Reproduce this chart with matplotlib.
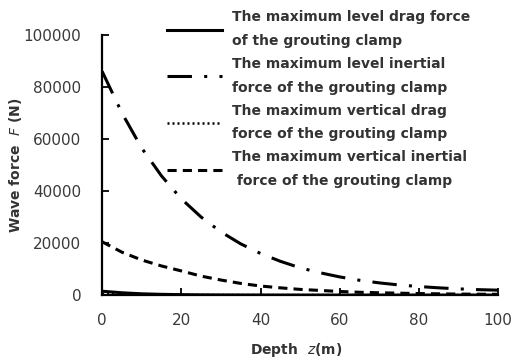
import matplotlib.pyplot as plt

# depth along the pile (m)
depth = [0, 5, 10, 15, 20, 25, 30, 35, 40, 45, 50, 55, 60, 65, 70, 75, 80, 85, 90, 95, 100]
# wave force values (N)
level_drag = [1500, 900, 500, 300, 170, 100, 60, 40, 25, 15, 10, 8, 6, 5, 4, 3, 3, 2, 2, 2, 2]
level_inertial = [86000, 70000, 56500, 45800, 37000, 30000, 24300, 19700, 16000, 13000, 10500,
                  8600, 7000, 5700, 4700, 3900, 3300, 2800, 2400, 2100, 1900]
vertical_drag = [400, 250, 150, 90, 55, 35, 20, 12, 8, 5, 3, 2, 2, 1, 1, 1, 1, 1, 1, 1, 1]
vertical_inertial = [20500, 16500, 13500, 11200, 9300, 7300, 5800, 4500, 3500, 2800, 2200,
                     1800, 1400, 1100, 900, 750, 600, 500, 400, 350, 300]

labels = ["The maximum level drag force\nof the grouting clamp",
          "The maximum level inertial\nforce of the grouting clamp",
          "The maximum vertical drag\nforce of the grouting clamp",
          "The maximum vertical inertial\n force of the grouting clamp"]

fig = plt.figure(figsize=(5.13, 3.63), dpi=100)
ax = fig.add_axes([0.199, 0.187, 0.772, 0.717])

ax.plot(depth, level_drag, color='black', lw=2.2, ls='-', label=labels[0])
ax.plot(depth, level_inertial, color='black', lw=2.2, ls=(0, (8, 4, 1, 4)), label=labels[1])
ax.plot(depth, vertical_drag, color='black', lw=1.8, ls=(0, (0.8, 1.2)), label=labels[2])
ax.plot(depth, vertical_inertial, color='black', lw=2.2, ls=(0, (3, 2)), label=labels[3])

ax.set_xlim(0, 100)
ax.set_ylim(0, 100000)
ax.set_xticks([0, 20, 40, 60, 80, 100])
ax.set_yticks([0, 20000, 40000, 60000, 80000, 100000])
ax.tick_params(direction='in', length=5, width=1.3, labelsize=11, labelcolor='#3a3a3a')
ax.tick_params(axis='y', pad=15)
ax.tick_params(axis='x', pad=13)
for s in ['top', 'right']:
    ax.spines[s].set_visible(False)
for s in ['left', 'bottom']:
    ax.spines[s].set_linewidth(1.6)

fig.text(0.578, 0.035, r'Depth  $z$(m)', ha='center', va='center', fontsize=10,
         fontweight='bold', color='#333333')
fig.text(0.03, 0.545, r'Wave force  $F$ (N)', ha='center', va='center', rotation=90,
         fontsize=10, fontweight='bold', color='#333333')

leg = fig.legend(loc='upper left', bbox_to_anchor=(0.305, 1.0), frameon=False,
                 prop={'size': 10, 'weight': 'bold'}, handlelength=4.0,
                 handletextpad=0.7, labelspacing=0.66, borderpad=0.25)
for t in leg.get_texts():
    t.set_color('#333333')
    t.set_linespacing(1.86)

fig.savefig('out.png', dpi=100)
